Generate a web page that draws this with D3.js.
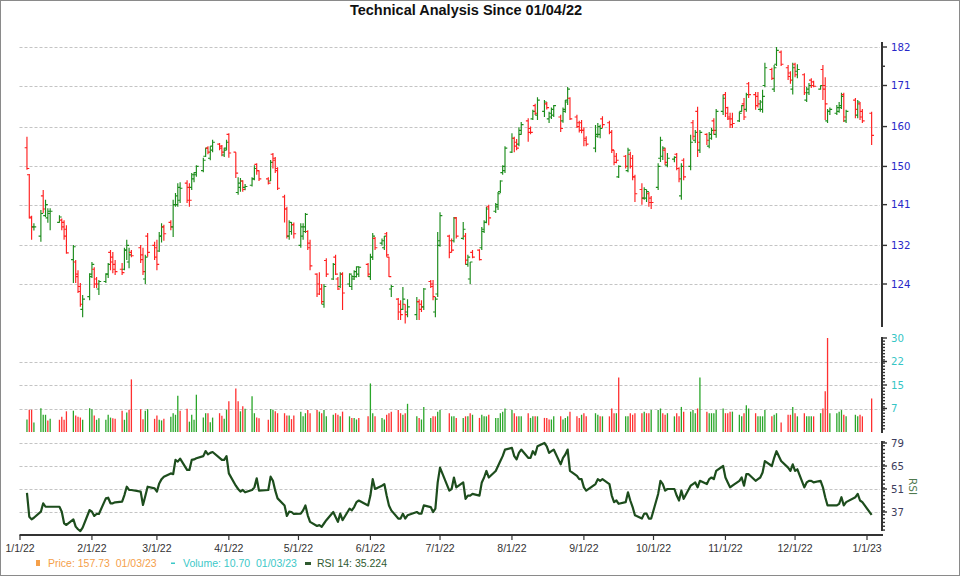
<!DOCTYPE html>
<html><head><meta charset="utf-8">
<script src="https://cdn.jsdelivr.net/npm/d3@7"></script>
<style>body{margin:0;background:#fff}svg{display:block}text{white-space:pre}</style>
</head><body>
<svg id="chart" width="960" height="576"></svg>
<script>
// ---------- data ----------
const titleText = "Technical Analysis Since 01/04/22";
const holidays = ["2022-01-17","2022-02-21","2022-04-15","2022-05-30","2022-06-20","2022-07-04","2022-09-05","2022-11-24","2022-12-26","2023-01-02"];
const firstDay = [2022,0,4], lastDay = [2023,0,3];

const opens = [
154.6,148,138,136,134,143,138.5,138,139,137,137.5,137,135.5,129,128.5,126,122.5,119,121.5,
126,127,125,123,124.5,126,130.5,129.5,128,127,127,131,128.5,130.5,131.5,130,125,134,132,
131.5,130.8,134,136,137,136,141,141,142,146,145,145,147,148,149,152.5,154.5,152,154,155.5,155,152.8,154.5,
158,153.5,143.8,145,146.5,145,145.5,147,150.5,149,147,146.5,153,152,149.5,142.8,140,134,135,136.5,
132,134,135,135,132.5,126,124,123,120,128.8,125,129.5,125,123.5,126,124,123.5,125,125.5,126,128,
125.5,129.5,133.5,132.5,131.5,134.5,129.5,123,121,120,119,120,118.5,118,120.5,120,119.5,124.5,124,118.5,122,
132,134,133,133,138,133.5,134,128,125,130.5,131,131.5,135,137,140.5,139.5,140.5,144,148.5,149,
153.5,157,156,155.5,158,161.5,159.5,162,165.5,163,164,166,162,162.5,163,162.5,161.5,164,167,167.5,162.5,161,161,
159,157,154.5,157.5,158,162,161,158.5,154,152.5,147.5,152.5,149,153,152,147.5,144.5,142.5,142.5,143.5,142.5,
145,152,152.5,154,150.3,151.8,153,149.5,143,151.5,150,161,156.5,164,154,158,155,157,161.5,158,164,
168.5,165,162.5,162,161.5,164,166,164.5,171.5,168.5,168,164.5,164.5,171,175.5,170,177,180.5,176,174.5,170,
177,175,174,167,169,172.5,172,170,175.5,171,161.5,164,163.5,164,165,168.5,161.5,167,163,166,164,
163.5];
const highs = [
157.4,148.2,138.5,136.8,139.8,144.4,142.1,140.2,140.2,138.6,137.9,137.5,136.4,132.1,128.9,126.8,124.2,121.8,126.2,
128.5,127.4,125.4,124.8,126.2,128.3,131,130.6,128.9,128.3,131.5,133.2,131.5,131,132.1,131.5,130,134.7,132.8,
133.2,134.9,136.8,136.5,137.5,142.1,143.7,146,146.2,146.7,146,148.4,148.6,150.3,152.1,154.6,155,155,156.6,155.8,155.3,154.6,156.6,
158.3,153.5,147.4,147.2,146.7,145.8,147.4,150.3,150.8,149.1,147.4,151.6,153.3,152.3,149.8,143.3,140.5,137.5,137.1,137,
136.8,136.8,139.1,135.3,133.2,126.2,126.4,124,124,129.3,128.3,130,125.4,126.4,126.4,126.2,125.8,126.8,127.6,127.6,128.3,
130.2,134.7,133.8,133.5,134,134.9,129.6,123.8,121.2,120.8,123.4,120,121,121.4,121,120.8,123.2,124.8,124.8,121.4,134.9,
139.3,134.3,133.5,138.2,138.2,137.1,134.7,130,128.5,131,131.2,136,137.5,140.5,141,141.4,143.9,146.7,150.3,155,
158.3,157.4,156.8,159.8,161.2,162.2,160,164.4,166,167.8,167,166.5,163.9,165,165.7,163.1,165,167,170.6,167.8,163.1,161.5,161.7,
159.8,157.5,160.4,160.9,160.5,162.7,161.5,159.1,154,153.3,150.3,152.8,154.6,153.6,152.8,148,146,145,144.5,143.9,143,
150.8,157.4,155,154.6,153.3,152.5,153.3,149.8,150.8,152,157.9,161.7,159.1,165.2,159.1,158.3,158.6,159.6,162.2,164.6,168.5,
169.2,165.2,163.6,163.6,163.9,165.7,167.6,169,172,169.2,169.2,167,169.8,177.4,176,176.8,182,181,176.8,175,177.4,
177.4,177,174.4,170.6,171.7,173,172.3,171.1,176.8,173.3,164.6,165,165.7,166.5,169,169,164.4,167.6,167,166.5,164.6,
163.9];
const lows = [
149.2,137.9,133.2,135.2,132.8,139.1,138.2,136.9,135.3,136.9,135.3,133.2,130.2,124.2,124.2,122.2,119.5,117.5,120.8,
125.2,123.2,123.2,121.8,124.2,125.2,126.8,126.2,125.8,125.8,126.8,128.9,127.2,129.5,128.3,125.8,124,129.6,128.9,
126.8,130.6,132.6,133,135.3,133.8,140.5,140.5,141.4,141.4,140.5,144.4,146.2,147.5,148.6,152.3,153,151.5,153.5,154,152.5,152.3,154,
152.1,147.2,143.3,144,144,144.3,145.2,146.7,148,146.5,145.7,146.5,149.5,148.4,144.4,137,133.5,133.2,134.3,133.5,
131.5,133.2,134.7,131,126.8,121.4,121.8,120,119.3,125.4,124.8,125.8,122.8,123.2,118.9,123.4,122.8,124.8,125.3,125.4,125.4,
124.8,128.9,131,132,131,129.6,125.4,121.4,117,117,118.9,116.3,117.5,117,117,118.5,118.9,123.2,120.8,117.5,121.4,
131.7,129.3,130.5,132.6,133.5,133.2,127.9,127.5,124,129.3,128.8,131,134.7,136.8,136.4,139.1,139.8,143.7,148,148.4,
153.3,153.5,154,155,157.9,156.1,158,161.7,163,161.7,162.5,164.5,160.9,162,162.5,158.6,161,163.6,165.7,161.7,159.6,158.5,158.3,
155,155,153.5,157.1,157,159.6,158,153.3,150.3,150.8,147.2,149.5,148.6,149.5,146.7,141.6,141,142.1,141.6,140.5,140,
144.4,151.1,151.6,150.3,149.8,151,149.1,146.2,142.1,146.7,149.1,156.6,155.8,152.3,153.3,155.3,154.5,156.6,157.9,157.1,163,
162.5,161.7,159.6,159.6,161.2,163.9,161.7,163.9,167.6,164.4,165,163.9,163.6,170.5,172.5,169.2,176.5,176.5,172.5,171.5,168.5,
173.3,173,168.4,166.5,168.4,170.3,170.5,169.8,167,161.7,160.9,163,163,163.6,164.6,161.2,160.9,162.2,162.2,161.7,160.9,
155.3];
const closes = [
149.5,138.2,136,136,139,140,141,139.5,139.5,138.2,136,134,130.4,131.7,125.5,123.5,120,121,125.5,
128,124,124,124.5,126,128,128.5,127,126.5,126.3,131,132,130,129.8,129,126.5,129.5,130.5,129.5,
128,134,136,134.5,136,141,143,145,144.8,142,142,148,148.5,150,151.5,154.5,153.5,155,156,154.5,153.5,154,156,
153.3,148.4,146,146.5,144.5,145.2,147,149.5,149,147,146,151,151.5,149,144.8,140,134,137,136.5,134.5,
136,136,138.8,131.5,127.7,122,123,120.5,123.5,126,128,126,123,126,122.2,126,125.5,126.5,127.5,127.4,126,
129.5,134,131.5,133,134,130,125.5,123.5,118.5,118,121,118,119.5,120.5,119,119.5,123,123.5,121.5,121,133,
138.5,130.5,131,138,134,135.5,128.9,129.5,128.5,129.5,129,135.5,137,140,138,141,143.5,146.5,150,154.5,
157,155,154.5,159,160.5,158.5,158.5,164,163.5,167,166.5,165,163.5,164.5,165.5,159.5,164.5,166.5,170,162,160,159,159,
156.5,155.5,158,160,159.5,160.5,158.5,154,151,151.5,150,150,154,150,147.5,143.5,142.5,144.5,144,141.5,141.5,
150,156.5,154.5,151,152,152.2,149.5,147,150,147.5,156,157.5,158.5,156,158.5,156.5,158,159,159,164,167.5,
163.5,162,160.5,160.8,163.5,165.5,162.5,168.5,168.5,165.5,166,166.5,168,176,173,176,181,177,173.5,172.5,176,
174,175.5,169,170,171,171,170.8,171,170,166,164,164.5,165,165.5,168,162.5,164,164.5,166.5,162.5,161.5,
157.73];
const volumes = [
4.0,7.1,7.1,3.0,7.6,5.5,5.5,3.7,4.2,3.9,4.9,3.9,6.6,6.8,5.3,4.9,4.6,3.9,7.6,
7.3,5.3,3.9,4.4,3.9,5.5,4.6,4.4,4.2,6.8,3.9,6.2,7.1,16.8,7.3,4.1,6.8,7.3,4.2,
5.3,3.9,3.7,4.2,4.9,6.0,5.5,11.6,6.8,7.4,3.3,5.5,3.9,11.9,4.6,6.0,6.0,3.1,4.6,6.0,5.2,4.2,7.1,
9.8,13.9,9.8,6.6,8.2,7.4,11.4,6.0,4.6,4.4,3.9,7.3,7.1,6.6,6.0,6.0,5.3,5.3,4.1,5.3,
6.5,5,6,7,6,7,6.5,6,7,5,5.5,6,5.5,5,6.5,5,4.5,4.5,4,4.5,5,
15.5,6,5,4.5,4,5.5,6,6.5,7,6,5.5,6,9,5,4.5,4,8,4.5,5,5,6.5,
7,6,5,5,4.5,4.5,5,5,6,5.5,4.5,5.5,5,5,5.5,4.5,4.5,6,6.5,7.5,
7,6,5,5,5,6,4.5,5,5,5,4.5,4.5,4,4,5,5,4,4.5,5,6.5,5,4.5,5.5,
6,5,6,5.5,5,5,5,7.5,6,6,17.4,5,5,6,5.5,6,6,6.5,6,6,7,
7,7.5,6,5.5,6,5,6,5,8,6.5,6.5,7,6,7.5,17.4,6.5,6,6,6,7,7.5,
6,6,6.5,6.5,5.5,5,6,8.5,7.5,6,5,5,5,7,5,5.5,6,3,5.5,5.5,8,
6,5,6,5,5,5,5,6,7.5,13,30,6,6,6.5,7,5.5,5,5.5,5,5.5,5,
10.70];
const rsi14 = [
48.7,34.1,32.5,33.5,37.2,42.3,40.2,40.2,40.2,40.2,37.2,30.1,29.1,32.5,28.1,26.5,25.4,27.5,38.2,
37.2,34.6,35.8,35.8,45.3,45.7,42.3,42.3,42.9,43.3,47.3,52.4,50.4,50.4,49.4,41.3,46.7,52.4,51.4,
49.4,54.4,57,58.5,60.5,60,68.7,67.7,69.5,62.6,62.6,68.7,69,69.7,71,74.1,72.1,73,73.5,69.9,68.7,68.7,71,
60.5,53,51,49.4,50.4,49,50.4,52,57.5,50,50.4,58.5,56,50,45.3,41,34.6,37.2,37,35.8,
36,38,41,35,31,28.5,29,28,30,32,37,34,31,36,32,39,38,40,43,44,41,
47,57,51,53,54,47,41,38,33,33,36,33,35,37,36,36,41,40,37,39,55,
64,50,51,58,52,55,45,47,47,48,47,55,58,62,58,62,65,68,71,75,
76,71,69,73,75,70,70,74,72,77,79,77,73,74,75,66,70,72,75,62,59,57,57,
52,50,54,57,56,57,54,47,43,44,42,43,49,44,40,35,33,36,36,33,33,
48,56,54,50,51,51,47,44,50,45,53,54,55,52,56,54,57,58,57,62,65,
58,55,52,53,56,58,53,60,60,56,57,58,61,68,65,70,74,68,64,62,66,
62,63,52,55,56,56,55,56,52,46,41,41,41,42,46,41,43,46,48,44,43,
35.224];

const priceTicks = [124,132,141,150,160,171,182];
const volTickValues = [7.5,15,22.5,30];
const volTickLabels = ["7","15","22","30"];
const rsiTicks = [37,51,65,79];
const monthTickLabels = ["1/1/22","2/1/22","3/1/22","4/1/22","5/1/22","6/1/22","7/1/22","8/1/22","9/1/22","10/1/22","11/1/22","12/1/22","1/1/23"];
const legendItems = [
  {text:"Price: 157.73  01/03/23", color:"#f5a04a", marker:"square"},
  {text:"Volume: 10.70  01/03/23", color:"#3cc8c8", marker:"dash"},
  {text:"RSI 14: 35.224", color:"#2f5a2f", marker:"bar"}
];

// ---------- dates ----------
const hol = new Set(holidays);
const dates = [];
for (let t = Date.UTC(...firstDay); t <= Date.UTC(...lastDay); t += 864e5) {
  const d = new Date(t), wd = d.getUTCDay();
  if (wd === 0 || wd === 6) continue;
  if (hol.has(d.toISOString().slice(0,10))) continue;
  dates.push(d);
}
const bars = dates.map((d,i)=>({d, o:opens[i], h:highs[i], l:lows[i], c:closes[i], v:volumes[i], r:rsi14[i], pc: i? closes[i-1] : null}));

// ---------- layout ----------
const svg = d3.select("#chart");
const LEFT = 19.5, AXX = 882;
const x = d3.scaleUtc().domain([new Date(Date.UTC(2022,0,1)), new Date(Date.UTC(2023,0,1))]).range([20, 867]);
const yP = d3.scaleLog().domain([124,182]).range([284,47]);
const yV = d3.scaleLinear().domain([0,30]).range([432,338]);
const yR = d3.scaleLinear().domain([37,79]).range([512,443]);
const GREEN = "#1c8c1c", RED = "#ff2020";

svg.append("rect").attr("x",0.5).attr("y",0.5).attr("width",959).attr("height",575)
  .attr("fill","#fff").attr("stroke","#8a8a8a").attr("stroke-width",1);

svg.append("text").attr("x",466).attr("y",15).attr("text-anchor","middle")
  .attr("font-family","Liberation Sans, Arial, sans-serif").attr("font-weight","bold")
  .attr("font-size",14.5).attr("fill","#111").text(titleText);

// gridlines
const grid = svg.append("g").attr("stroke","#c4c4c4").attr("stroke-width",1).attr("stroke-dasharray","3,2");
const gl = y => grid.append("line").attr("x1",LEFT).attr("x2",AXX-2).attr("y1",Math.round(y)+0.5).attr("y2",Math.round(y)+0.5);
priceTicks.forEach(v=>gl(yP(v)));
[7.5,15,22.5].forEach(v=>gl(yV(v)));
rsiTicks.forEach(v=>gl(yR(v)));

// price bars
const pg = svg.append("g").attr("fill","none").attr("stroke-width",1.15);
bars.forEach(b=>{
  const xx = x(b.d);
  pg.append("path")
    .attr("d",`M${xx},${yP(b.h)}V${yP(b.l)}M${xx-2.3},${yP(b.o)}H${xx}M${xx},${yP(b.c)}H${xx+2.3}`)
    .attr("stroke", b.c>=b.o ? GREEN : RED);
});

// volume bars
const vg = svg.append("g").attr("stroke-width",1.3);
bars.forEach(b=>{
  const xx = x(b.d);
  const up = b.pc===null ? true : b.c>=b.pc;
  vg.append("line").attr("x1",xx).attr("x2",xx).attr("y1",yV(0)).attr("y2",yV(b.v))
    .attr("stroke", up ? "#2aa62a" : "#ff3030");
});

// RSI line
svg.append("path").datum(bars)
  .attr("d", d3.line().x(b=>x(b.d)).y(b=>yR(b.r)))
  .attr("fill","none").attr("stroke","#1d4d1d").attr("stroke-width",2.2).attr("stroke-linejoin","round");

// right axes
const ax = svg.append("g").attr("stroke","#333");
function vline(y1,y2){ ax.append("line").attr("x1",AXX).attr("x2",AXX).attr("y1",y1).attr("y2",y2).attr("stroke-width",2); }
function tick(y,len){ ax.append("line").attr("x1",AXX).attr("x2",AXX+len).attr("y1",y).attr("y2",y).attr("stroke-width",1.4); }
vline(42,327); vline(337,433); vline(441,531);
const lab = (y,t,col)=>svg.append("text").attr("x",AXX+9).attr("y",y+3.6).attr("font-family","DejaVu Sans, Verdana, sans-serif")
  .attr("font-size",10.2).attr("fill",col).text(t);
priceTicks.forEach(v=>{ tick(yP(v),5); lab(yP(v), String(v), "#2727c8"); });
tick(yP(Math.sqrt(171*182)),3);
d3.range(1,31).forEach(v=>{ if(!volTickValues.includes(v)) tick(yV(v),3); });
volTickValues.forEach((v,i)=>{ tick(yV(v),5); lab(yV(v), volTickLabels[i], "#35c5c5"); });
d3.range(26,80,14/6).forEach(v=>{ if(!rsiTicks.some(t=>Math.abs(t-v)<0.2)) tick(yR(v),3); });
rsiTicks.forEach(v=>{ tick(yR(v),5); lab(yR(v), String(v), "#3d3d5c"); });
svg.append("text").attr("transform","translate(909,478) rotate(90)")
  .attr("font-family","DejaVu Sans, Verdana, sans-serif").attr("font-size",10.5).attr("fill","#4f7a4f").text("RSI");

// bottom time axis
svg.append("line").attr("x1",LEFT).attr("x2",AXX+1).attr("y1",535).attr("y2",535).attr("stroke","#333").attr("stroke-width",1.8);
const months = d3.utcMonth.range(new Date(Date.UTC(2022,0,1)), new Date(Date.UTC(2023,0,2)));
months.forEach((m,i)=>{
  const xx = x(m);
  svg.append("line").attr("x1",xx).attr("x2",xx).attr("y1",535).attr("y2",540).attr("stroke","#333").attr("stroke-width",1.2);
  svg.append("text").attr("x",xx).attr("y",552).attr("text-anchor","middle")
    .attr("font-family","Liberation Sans, Arial, sans-serif").attr("font-size",10.5).attr("fill","#333")
    .text(monthTickLabels[i]);
});

// legend
const lgX = [36, 171, 305];
legendItems.forEach((it,i)=>{
  const mx = lgX[i];
  if (it.marker==="square") svg.append("rect").attr("x",mx).attr("y",560).attr("width",4).attr("height",6).attr("fill",it.color);
  else if (it.marker==="dash") svg.append("rect").attr("x",mx).attr("y",562.5).attr("width",4).attr("height",1.5).attr("fill",it.color);
  else svg.append("rect").attr("x",mx).attr("y",562).attr("width",6).attr("height",3).attr("fill",it.color);
  svg.append("text").attr("x",mx+12).attr("y",567).attr("font-family","Liberation Sans, Arial, sans-serif")
    .attr("font-size",10.5).attr("fill",it.color).attr("xml:space","preserve").text(it.text);
});
</script>
</body></html>
